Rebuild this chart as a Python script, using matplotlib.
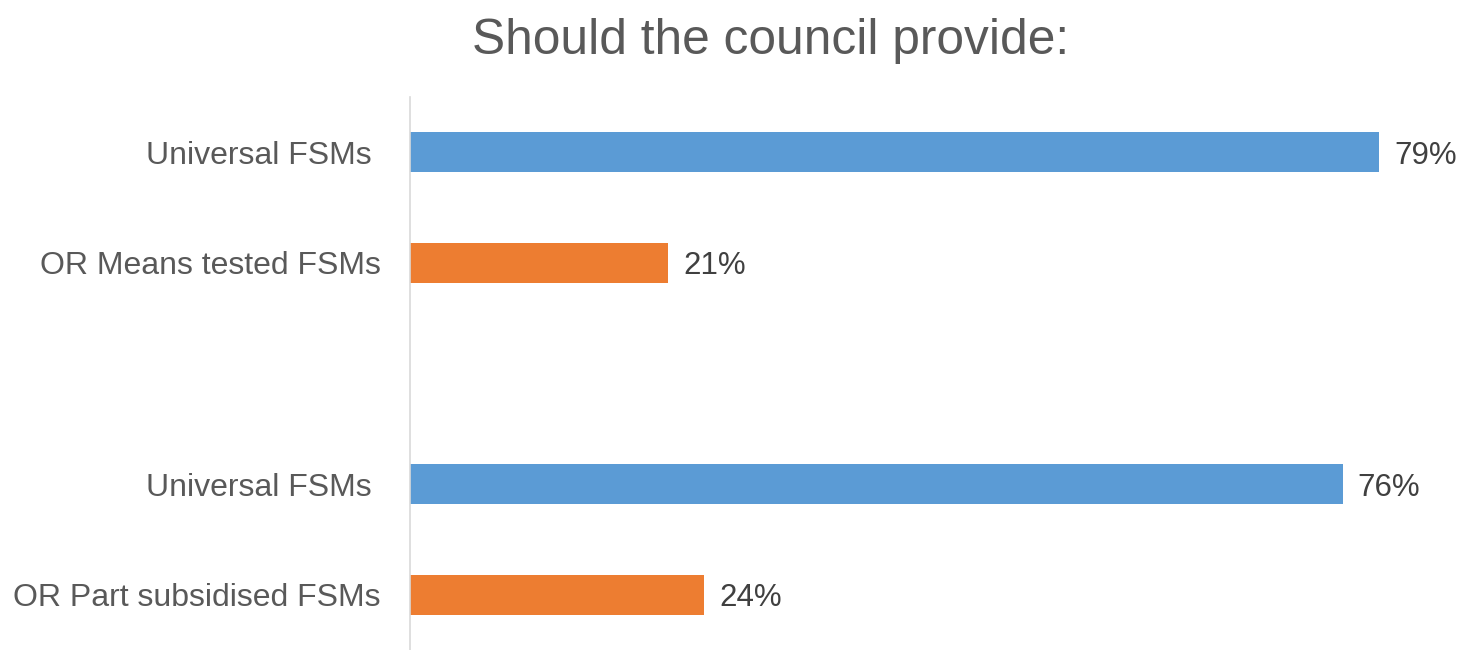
import matplotlib
matplotlib.use("Agg")
import matplotlib.pyplot as plt

plt.rcParams['font.family'] = ['Liberation Sans', 'DejaVu Sans']

# Survey responses, two questions with two options each
labels = ["Universal FSMs ", "OR Means tested FSMs", "Universal FSMs ", "OR Part subsidised FSMs"]
values = [79, 21, 76, 24]
positions = [0, 1, 3, 4]
colors = ["#5B9BD5", "#ED7D31", "#5B9BD5", "#ED7D31"]

text_color = "#595959"

fig = plt.figure(figsize=(14.73, 6.5), dpi=100)
ax = fig.add_axes([410 / 1473, 0.0, 1 - 410 / 1473, 1 - 97 / 650])

bars = ax.barh(positions, values, height=0.36, color=colors)

ax.set_xlim(0, (1473 - 410) / 12.27)
ax.set_ylim(4.5, -0.5)

ax.set_yticks(positions)
ax.set_yticklabels(labels, fontsize=23, color=text_color)
ax.tick_params(axis='y', length=0, pad=21)
ax.set_xticks([])

for side in ("top", "right", "bottom"):
    ax.spines[side].set_visible(False)
ax.spines["left"].set_color("#D9D9D9")
ax.spines["left"].set_linewidth(1.2)

for bar, v in zip(bars, values):
    ax.annotate(f"{v}%", xy=(bar.get_width(), bar.get_y() + bar.get_height() / 2),
                xytext=(11, 0), textcoords="offset points",
                va="center_baseline", ha="left", fontsize=22.5, color="#404040")

fig.text(771 / 1473, 1 - 54 / 650, "Should the council provide:", ha="center",
         va="baseline", fontsize=35.7, color=text_color)

fig.savefig("out.png", dpi=100)
